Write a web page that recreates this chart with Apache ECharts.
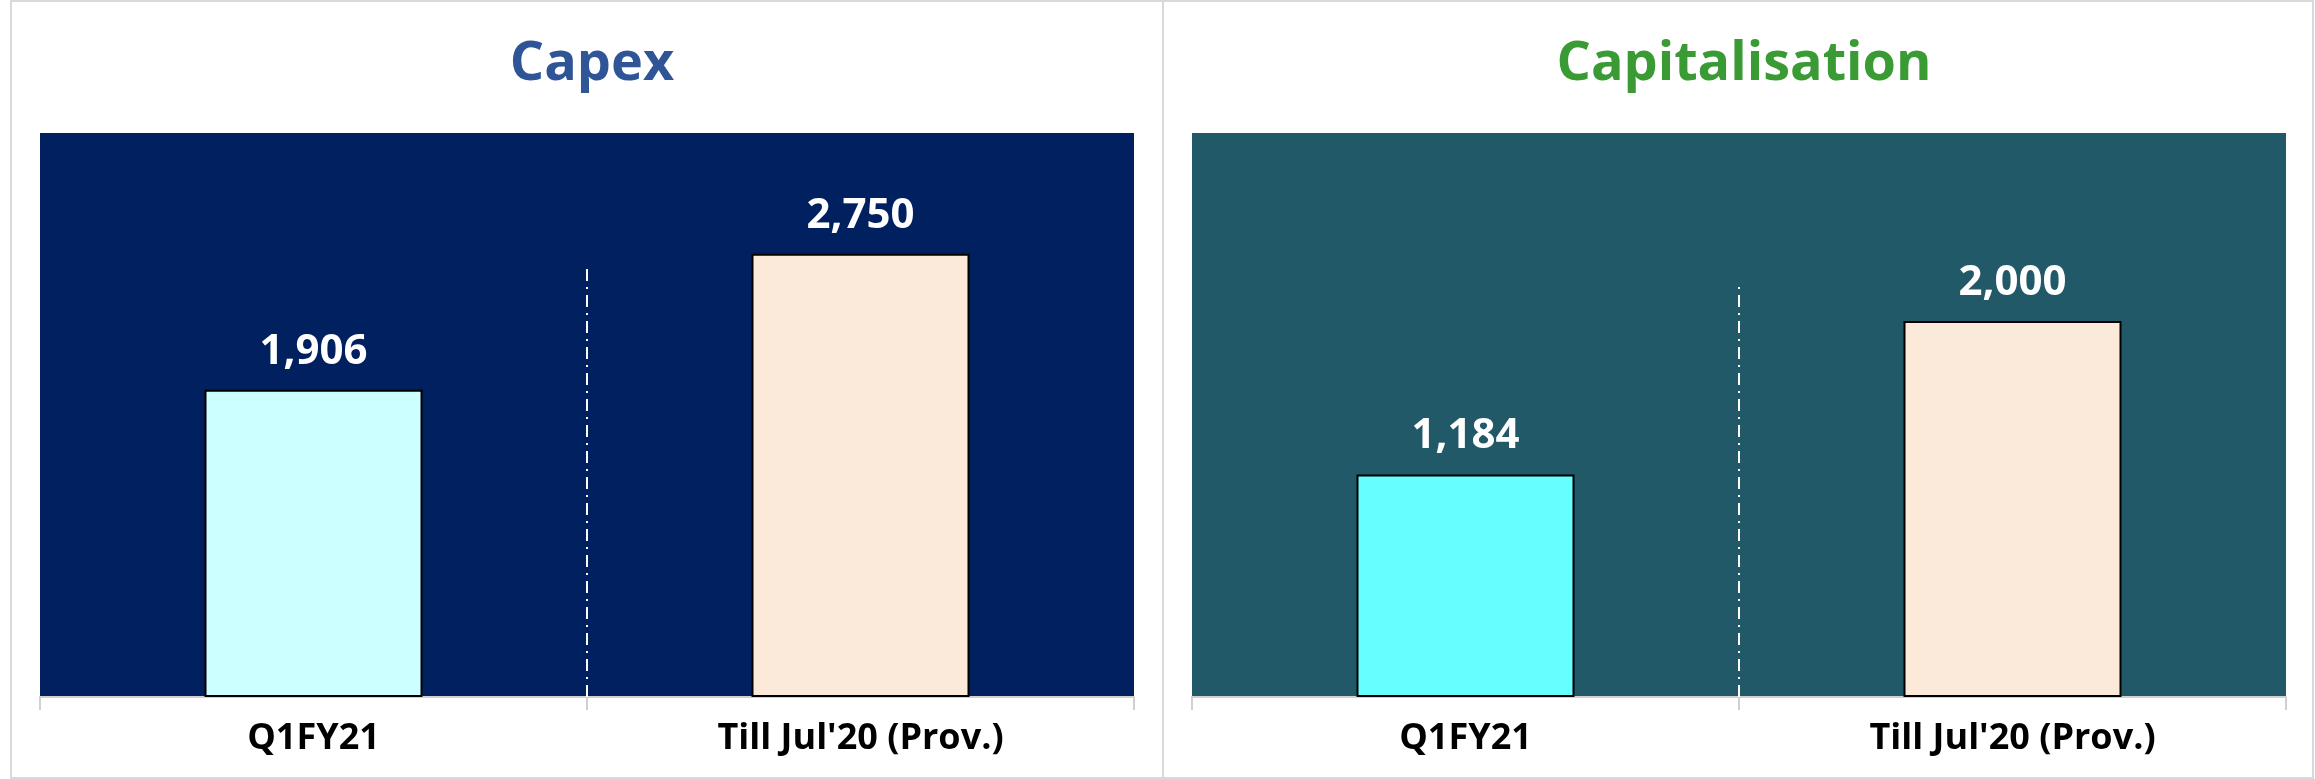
<!DOCTYPE html>
<html>
<head>
<meta charset="utf-8">
<script src="https://cdn.jsdelivr.net/npm/echarts@6/dist/echarts.min.js"></script>
<style>
  html, body { margin: 0; padding: 0; background: #fff; }
  #myCharts { width: 2315px; height: 779px; }
</style>
</head>
<body>
<div id="myCharts"></div>
<script>
// data
const categories = ["Q1FY21", "Till Jul'20 (Prov.)"];
const capexValues = [1906, 2750];
const capitalisationValues = [1184, 2000];
const panelTitles = ["Capex", "Capitalisation"];
const axisMax = [3500, 3000];
// where the dash-dot divider stops, in value units
const dividerTop = [2675, 2200];

const FONT = "'Open Sans', sans-serif";

// bar colours per panel
const barColors = [
  ["#CCFFFF", "#FBE9DA"],
  ["#66FFFF", "#FBE9DA"],
];

function fmt(v) {
  return v.toLocaleString("en-US");
}

let myCharts = echarts.init(document.getElementById("myCharts"));

let grids = [
  { left: 40, top: 133, width: 1094, height: 564, show: true, backgroundColor: "#002060", borderWidth: 0 },
  { left: 1192, top: 133, width: 1094, height: 564, show: true, backgroundColor: "#215968", borderWidth: 0 },
];

// category axes (0,1) + hidden value axes for the divider (2,3)
let xAxes = [0, 1].map((i) => ({
  type: "category",
  gridIndex: i,
  data: categories,
  axisLine: { lineStyle: { color: "#d0d0d0", width: 2 } },
  axisTick: { show: true, length: 13, lineStyle: { color: "#d0d0d0", width: 2 } },
  axisLabel: {
    color: "#000",
    fontFamily: FONT,
    fontWeight: "bold",
    fontSize: 36,
    margin: 24,
  },
})).concat([0, 1].map((i) => ({
  type: "value",
  gridIndex: i,
  min: 0,
  max: 2,
  show: false,
})));

let yAxes = [0, 1].map((i) => ({
  type: "value",
  gridIndex: i,
  min: 0,
  max: axisMax[i],
  show: false,
  splitLine: { show: false },
}));

function barSeries(i, values) {
  return {
    type: "bar",
    xAxisIndex: i,
    yAxisIndex: i,
    barWidth: 218,
    data: values.map((v, k) => ({
      value: v,
      itemStyle: { color: barColors[i][k] },
    })),
    itemStyle: { borderColor: "#000", borderWidth: 2 },
    label: {
      show: true,
      position: "top",
      distance: 17,
      color: "#fff",
      fontFamily: FONT,
      fontWeight: "bold",
      fontSize: 42,
      formatter: (p) => fmt(p.value),
    },
    silent: true,
    z: 3,
  };
}

function dividerSeries(i) {
  return {
    type: "line",
    xAxisIndex: i + 2,
    yAxisIndex: i,
    data: [[1, 0], [1, dividerTop[i]]],
    symbol: "none",
    lineStyle: { color: "#fff", width: 2, type: [12, 6, 2, 6] },
    silent: true,
    z: 2,
  };
}

let option = {
  backgroundColor: "#fff",
  animation: false,
  title: [
    {
      text: panelTitles[0],
      left: 587,
      top: 33,
      textAlign: "center",
      textStyle: { color: "#2F5597", fontFamily: FONT, fontWeight: "bold", fontSize: 54 },
    },
    {
      text: panelTitles[1],
      left: 1739,
      top: 33,
      textAlign: "center",
      textStyle: { color: "#3A9B35", fontFamily: FONT, fontWeight: "bold", fontSize: 54 },
    },
  ],
  grid: grids,
  xAxis: xAxes,
  yAxis: yAxes,
  series: [
    barSeries(0, capexValues),
    barSeries(1, capitalisationValues),
    dividerSeries(0),
    dividerSeries(1),
  ],
  // outer frame and panel separator
  graphic: [
    {
      type: "rect",
      shape: { x: 11, y: 1, width: 2302, height: 777 },
      style: { fill: null, stroke: "#d9d9d9", lineWidth: 2 },
      silent: true,
    },
    {
      type: "line",
      shape: { x1: 1163, y1: 1, x2: 1163, y2: 779 },
      style: { stroke: "#d9d9d9", lineWidth: 2 },
      silent: true,
    },
  ],
};

myCharts.setOption(option);
</script>
</body>
</html>
